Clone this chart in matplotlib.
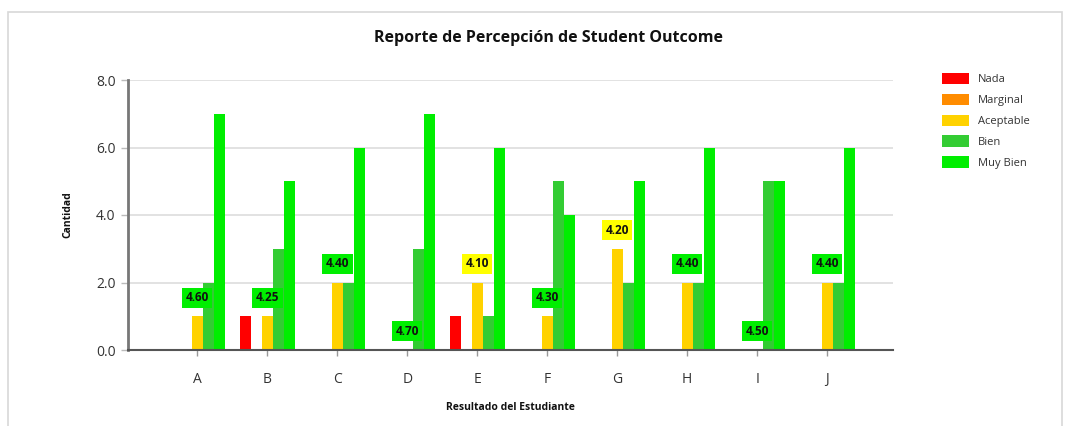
import numpy as np
import matplotlib.pyplot as plt
from matplotlib.patches import Rectangle, Patch

plt.rcParams['font.family'] = ['Open Sans', 'DejaVu Sans']

categorias = ['A', 'B', 'C', 'D', 'E', 'F', 'G', 'H', 'I', 'J']
niveles = ['Nada', 'Marginal', 'Aceptable', 'Bien', 'Muy Bien']
colores = ['#ff0000', '#ff8c00', '#ffd200', '#33cc33', '#00ee00']

nada = [0, 1, 0, 0, 1, 0, 0, 0, 0, 0]
marginal = [0, 0, 0, 0, 0, 0, 0, 0, 0, 0]
aceptable = [1, 1, 2, 0, 2, 1, 3, 2, 0, 2]
bien = [2, 3, 2, 3, 1, 5, 2, 2, 5, 2]
muy_bien = [7, 5, 6, 7, 6, 4, 5, 6, 5, 6]
promedios = [4.60, 4.25, 4.40, 4.70, 4.10, 4.30, 4.20, 4.40, 4.50, 4.40]

series = [nada, marginal, aceptable, bien, muy_bien]

fig = plt.figure(figsize=(10.75, 4.26), dpi=100)
# marco del grafico
fig.patches.append(Rectangle((8 / 1075, -0.05), 1054 / 1075, 1 - 12 / 426 + 0.05,
                             transform=fig.transFigure, fill=False,
                             edgecolor='#d8d8d8', linewidth=1.2))

ax = fig.add_axes([128 / 1075, 1 - 350 / 426, 765 / 1075, 270 / 426])

x = np.arange(len(categorias))
w = 0.157
for i, (vals, col, nom) in enumerate(zip(series, colores, niveles)):
    ax.bar(x + (i - 2) * w, vals, width=w, color=col, label=nom, zorder=2)

# etiqueta con el promedio sobre la barra "Aceptable"
for xi, ac, p in zip(x, aceptable, promedios):
    fondo = '#ffff00' if p < 4.25 else '#00ee00'
    ax.text(xi, ac + 0.55, f'{p:.2f}', ha='center', va='center',
            fontsize=8.5, fontweight='bold', color='#111111', zorder=4,
            bbox=dict(boxstyle='square,pad=0.3', facecolor=fondo, edgecolor='none'))

ax.set_xlim(-0.99, 9.94)
ax.set_ylim(0, 8)
ax.set_yticks([0, 2, 4, 6, 8])
ax.set_yticklabels(['0.0', '2.0', '4.0', '6.0', '8.0'])
ax.set_xticks(x)
ax.set_xticklabels(categorias)
ax.tick_params(axis='both', labelsize=10, colors='#333333')
ax.tick_params(axis='y', length=5, width=1, color='#bbbbbb', pad=4)
ax.tick_params(axis='x', length=4, width=1, color='#999999', pad=12)

ax.grid(axis='y', color='#dddddd', linewidth=1.2, zorder=0)
ax.set_axisbelow(True)
for s in ['top', 'right']:
    ax.spines[s].set_visible(False)
ax.spines['left'].set_color('#777777')
ax.spines['left'].set_linewidth(2)
ax.spines['bottom'].set_color('#555555')
ax.spines['bottom'].set_linewidth(1.5)

fig.text(548 / 1075, 1 - 38 / 426, 'Reporte de Percepción de Student Outcome',
         ha='center', va='center', fontsize=11.5, fontweight='bold', color='#111111')
fig.text(68 / 1075, 1 - 215 / 426, 'Cantidad', rotation=90, ha='center', va='center',
         fontsize=7.5, fontweight='bold', color='#111111')
fig.text(510 / 1075, 1 - 408 / 426, 'Resultado del Estudiante', ha='center', va='center',
         fontsize=7.5, fontweight='bold', color='#111111')

handles = [Patch(facecolor=c, edgecolor='none') for c in colores]
fig.legend(handles, niveles, loc='upper left', bbox_to_anchor=(932 / 1075, 1 - 63 / 426),
           frameon=False, fontsize=8, handlelength=2.4, handleheight=1.2,
           labelspacing=0.75, handletextpad=0.8, labelcolor='#333333')

fig.savefig('out.png', dpi=100, facecolor='white')
